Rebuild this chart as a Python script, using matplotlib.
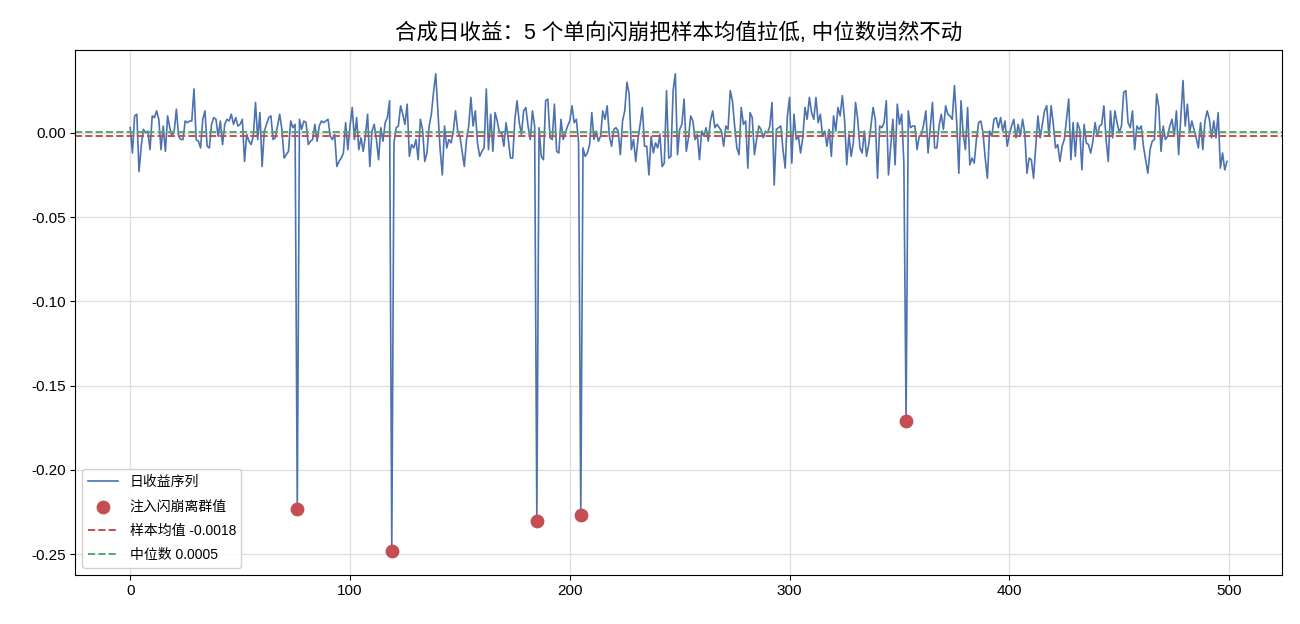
import matplotlib.pyplot as plt
import numpy as np

plt.rcParams['font.family'] = ['Liberation Sans', 'Noto Sans CJK SC', 'DejaVu Sans']
plt.rcParams['axes.unicode_minus'] = False

# 日收益 (单位 0.001)
noise = [
    3, -12, 10, 11, -23, -8, 2, 0, 1, -10, 10, 9, 13, 8, -10, 4, -11, 10, 3, -2,
    1, 14, -2, -4, -4, 7, 6, 7, 7, 26, -4, -5, -9, 8, 13, -8, -9, 5, 9, 8, -2,
    7, -7, 5, 8, 7, 11, 5, 9, 4, 5, 8, -17, -1, -5, -7, -2, 18, -4, 12, -20,
    1, 5, 9, 10, -4, -3, 4, 11, 2, -15, -13, -11, 7, 3, 5,
    0,
    8, 2, 7, 6, -7, -5, -4, 5, -5, 4, 7,
    6, 7, 8, -2, -4, -1, -20, -17, -15, -12, 6, -10, 4, 15, -4, 9, -10, -3, -11, -2,
    11, -20, 1, 5, -4, -16, 3, -5, 6, 9, 19,
    0,
    -6, 3, 4, 16, 11, 5, 17, -14, -7, -9, -4, -16, 8, 2,
    -17, -12, 4, 11, 24, 35, 13, -10, -25, 4, -9, -4, -6, 1, 13, 1, -2, -11, -20, -4,
    4, 21, 4, 13, -6, -14, -11, -9, 26, -10, 11, -11, 12, 7, 0, 0, -8, 6, -4, -15,
    -15, 8, 19, 6, -1, 13,
    15, 4, -4, 13, 4,
    0,
    3, -14, -16, 19, 20, -3, -4, 17, -11, -12, 8, -4, 0, 4, 7, 16, 6, 8, -6,
    0,
    -9, -14, -12, -7, 12, -4, 1, -5, -2, 13, 8, 16, -2, -8, 2, 3, 1, -13, 7, 13,
    30, 23, -10, -4, -17, -4, 5, 15, -8, -8, -25, -2, -12, -6, -9, -1, -20, -18, 25, -15,
    -14, 25, 35, -13, 2, 5, 20, -11, -3, 10, 7, -4, -1, -16, 1, -2, 3, -5, 7, 13,
    3, 5, 3, 1, -8,
    4, 2, 25, 19, 4, -9, -13, 15, 5, 7, -21, 12, 9, -13, -4, 4, 2, -3, 1, 0,
    4, 18, -31, 2, 3, 4, -10, -21, 10, 21, -18, 11, -4, -2, -12, -3, 15, 8, 21, 12,
    8, 21, 6, 11, -2, 1,
    -8, 2, -14, 10, 1, 15, 10, 22, 8, -19, -1, -14, -6, 18, 8, -9, -12, 1, -14, -7,
    4, 15, 8, -27, 4, 3, 6, 19, -25, -8, 8, -19, 17, 5, 11, -18,
    0,
    13, 3, 4, 4, -10, -2, -1, 5,
    13, -12, 3, 18, -9, -9, 4, 11, 2, 16, 11, 10, 8, 28, 7, -24, 19, -1, -10, 15,
    -19, -15, -18, -4, 6, 7, 0, -15, -27, 1, -2, 8, 9, 3, 9, 1, 7, -8, -1, 4,
    8, -3, 5, -2, 8, 0,
    -24, -15, -16, -27, -8, 10, -3, 5, 13, 16, -2, 16, 5, -9, -7, -17, -8, -4, 8, 20,
    -16, 6, -14, 6, 2, -22, 5, -6, -7, -12, -5, 6, -2, 4, 5, 16, -4, -17, 13, -3,
    13, 6, 0, 4, 24,
    25, 6, 3, 13, -10, 4, 2, 4, -8, -16, -24, -10, -5, -4, 23, 15, -11, 4, -4, -2,
    4, 8, -2, 13, -13, 9, 31, 4, 17, 0, 7, 2, -3, -9, 6, -10, 7, 13, 8, -3,
    7, -3, 12, -21, -12, -22, -17,
]

# 注入的闪崩
crash_idx = [76, 119, 185, 205, 353]
crash_val = [-0.223, -0.248, -0.230, -0.227, -0.171]

mean_val = -0.0018
median_val = 0.0005

returns = np.array(noise, dtype=float) / 1000
returns[crash_idx] = crash_val
days = np.arange(len(returns))

fig, ax = plt.subplots(figsize=(13, 6.24), dpi=100)

ax.plot(days, returns, color='#4C72B0', linewidth=1.2, label='日收益序列', zorder=2)
ax.scatter(crash_idx, crash_val, s=80, color='#C44E52', label='注入闪崩离群值', zorder=3)
ax.axhline(mean_val, color='#C44E52', linestyle='--', linewidth=1.4,
           label=f'样本均值 {mean_val:.4f}', zorder=2)
ax.axhline(median_val, color='#55A868', linestyle='--', linewidth=1.4,
           label=f'中位数 {median_val:.4f}', zorder=2)

ax.grid(True, color='#dddddd', linewidth=0.9, zorder=0)
ax.set_axisbelow(True)
ax.tick_params(labelsize=11)
ax.set_title('合成日收益：5 个单向闪崩把样本均值拉低, 中位数岿然不动', fontsize=15.5, pad=8)
ax.legend(loc='lower left', fontsize=10, framealpha=0.9, labelspacing=0.75,
          handlelength=2.2)

fig.subplots_adjust(left=0.058, right=0.986, top=0.92, bottom=0.079)
plt.savefig('out.png', dpi=100)
